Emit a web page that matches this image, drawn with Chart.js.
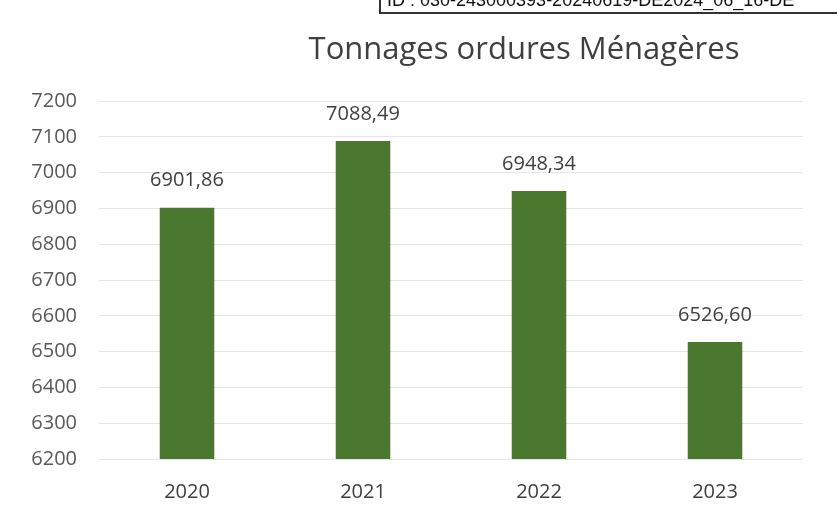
<!DOCTYPE html>
<html>
<head>
<meta charset="utf-8">
<script src="https://cdn.jsdelivr.net/npm/chart.js@4"></script>
<style>
  html,body{margin:0;padding:0;background:#fff;}
  #wrap{position:relative;width:837px;height:519px;overflow:hidden;}
  #stamp{position:absolute;left:379px;top:-14px;width:480px;height:24px;border:2px solid #333;
    font:18px "Liberation Sans",Arial,sans-serif;color:#111;line-height:24px;padding-left:6px;white-space:nowrap;}
  #title{position:absolute;left:224px;width:600px;top:26px;text-align:center;
    font:31px "Open Sans",sans-serif;color:#404040;}
  canvas{position:absolute;left:0;top:0;}
</style>
</head>
<body>
<div id="wrap">
  <canvas id="c" width="837" height="519"></canvas>
  <div id="stamp">ID : 030-243000393-20240619-DE2024_06_16-DE</div>
  <div id="title">Tonnages ordures Ménagères</div>
</div>
<script>
// données
const annees  = ['2020','2021','2022','2023'];
const tonnages = [6901.86, 7088.49, 6948.34, 6526.60];
const yMin = 6200, yMax = 7200, yPas = 100;

const VERT = '#4a782f';

// étiquettes de valeur au-dessus des barres
const valeurs = {
  id:'valeurs',
  afterDatasetsDraw(chart){
    const ctx = chart.ctx;
    const meta = chart.getDatasetMeta(0);
    ctx.save();
    ctx.font = '20px "Open Sans", sans-serif';
    ctx.fillStyle = '#404040';
    ctx.textAlign = 'center';
    ctx.textBaseline = 'middle';
    meta.data.forEach((bar,i)=>{
      const txt = tonnages[i].toFixed(2).replace('.',',');
      ctx.fillText(txt, bar.x, bar.y-27);
    });
    ctx.restore();
  }
};

new Chart(document.getElementById('c'), {
  type:'bar',
  data:{
    labels: annees,
    datasets:[{
      data: tonnages,
      backgroundColor: VERT,
      borderWidth: 0,
      categoryPercentage: 1,
      barPercentage: 0.31
    }]
  },
  options:{
    responsive:false, animation:false,
    layout:{padding:{top:101, right:34, bottom:-6, left:0}},
    plugins:{legend:{display:false}, tooltip:{enabled:false}, title:{display:false}},
    scales:{
      y:{
        min:yMin, max:yMax,
        ticks:{stepSize:yPas, padding:22, color:'#595959', font:{family:'"Open Sans", sans-serif', size:20},
          callback:v=>String(v)},
        grid:{color:'#e6e6e6', drawTicks:false},
        border:{display:false},
        afterFit(s){ s.width = 99; }
      },
      x:{
        ticks:{padding:21, color:'#404040', font:{family:'"Open Sans", sans-serif', size:20}},
        grid:{display:false, drawTicks:false},
        border:{display:false}
      }
    }
  },
  plugins:[valeurs]
});
</script>
</body>
</html>
